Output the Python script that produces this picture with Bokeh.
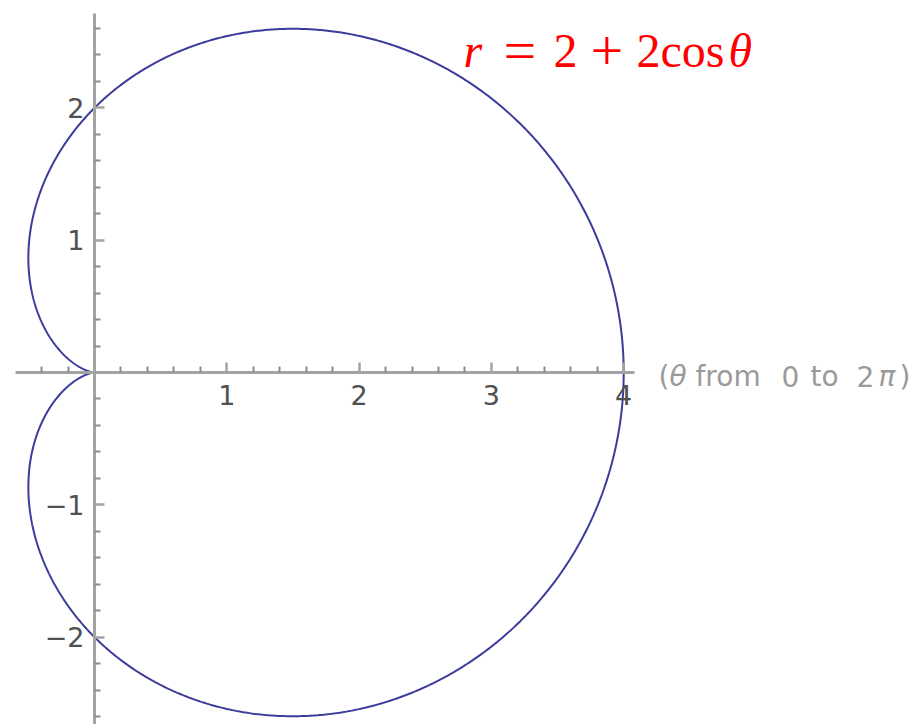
import numpy as np
from bokeh.plotting import figure
from bokeh.models import Range1d, FixedTicker, Label
from bokeh.embed import file_html
from bokeh.resources import INLINE

# Cardioid r = A + B*cos(theta), theta from 0 to 2*pi
A = 2.0
B = 2.0
THETA_START = 0.0
THETA_END = 2 * np.pi
N_SAMPLES = 1441

# Axis ticks
x_major = [1, 2, 3, 4]
y_major = [-2, -1, 1, 2]
x_minor = [-0.4, -0.2, 0.2, 0.4, 0.6, 0.8, 1.2, 1.4, 1.6, 1.8, 2.2, 2.4, 2.6, 2.8,
           3.2, 3.4, 3.6, 3.8]
y_minor = [-2.6, -2.4, -2.2, -1.8, -1.6, -1.4, -1.2, -0.8, -0.6, -0.4, -0.2,
           0.2, 0.4, 0.6, 0.8, 1.2, 1.4, 1.6, 1.8, 2.2, 2.4, 2.6]
x_bounds = (-0.6, 4.08)
y_bounds = (-2.7, 2.71)

theta = np.linspace(THETA_START, THETA_END, N_SAMPLES)
r = A + B * np.cos(theta)
xs = r * np.cos(theta)
ys = r * np.sin(theta)

W, H = 912, 724
scale = 132.3          # pixels per unit, equal on both axes
ox, oy = 94.0, 372.0   # origin in canvas pixels

p = figure(width=W, height=H, output_backend="svg", toolbar_location=None,
           x_range=Range1d(-ox / scale, (W - ox) / scale),
           y_range=Range1d(-(H - oy) / scale, oy / scale),
           min_border=0, min_border_left=0, min_border_right=0,
           min_border_top=0, min_border_bottom=0)
p.outline_line_color = None
p.xgrid.visible = False
p.ygrid.visible = False
p.background_fill_color = "white"
p.border_fill_color = "white"

axis_color = "#a3a3a3"
label_color = "#505050"

for ax, major, minor, bnds in ((p.xaxis[0], x_major, x_minor, x_bounds),
                               (p.yaxis[0], y_major, y_minor, y_bounds)):
    ax.fixed_location = 0
    ax.bounds = bnds
    ax.ticker = FixedTicker(ticks=major, minor_ticks=minor)
    ax.axis_line_color = axis_color
    ax.axis_line_width = 3
    ax.major_tick_line_color = axis_color
    ax.major_tick_line_width = 2.5
    ax.major_tick_in = 10
    ax.major_tick_out = 0
    ax.minor_tick_line_color = "#8c8c8c"
    ax.minor_tick_line_width = 2
    ax.minor_tick_in = 6
    ax.minor_tick_out = 0
    ax.major_label_text_font = "DejaVu Sans"
    ax.major_label_text_font_size = "27px"
    ax.major_label_text_color = label_color

p.xaxis.major_label_standoff = 12
p.yaxis.major_label_standoff = 10
p.yaxis.major_label_orientation = "horizontal"
p.yaxis.major_label_overrides = {-2: "\u22122", -1: "\u22121", 1: "1", 2: "2"}

p.line(xs, ys, line_color="#3c3c9c", line_width=2)

# caption of the horizontal axis, with italic Greek letters
caption_parts = [
    ("(", 658, "normal"),
    ("\u03b8", 669, "italic"),
    ("from", 695, "normal"),
    ("0", 781, "normal"),
    ("to", 810, "normal"),
    ("2", 856, "normal"),
    ("\u03c0", 878, "italic"),
    (")", 899, "normal"),
]
for txt, px, style in caption_parts:
    p.add_layout(Label(x=px, y=H - 376, x_units="screen", y_units="screen",
                       text=txt, text_font="DejaVu Sans", text_font_style=style,
                       text_font_size="28px", text_color="#9a9a9a",
                       text_baseline="middle", text_align="left"))

# formula title, set piece by piece
title_parts = [
    ("r", 463, "italic", "48px"),
    ("=", 503, "normal", "58px"),
    ("2", 553, "normal", "48px"),
    ("+", 590, "normal", "58px"),
    ("2cos", 636, "normal", "48px"),
    ("\u03b8", 728, "italic", "48px"),
]
for txt, px, style, size in title_parts:
    p.add_layout(Label(x=px, y=H - 50, x_units="screen", y_units="screen",
                       text=txt, text_font="Liberation Serif",
                       text_font_style=style, text_font_size=size,
                       text_color="#ff0000", text_baseline="alphabetic",
                       text_align="left"))

open("out.html", "w").write(file_html(p, INLINE))
